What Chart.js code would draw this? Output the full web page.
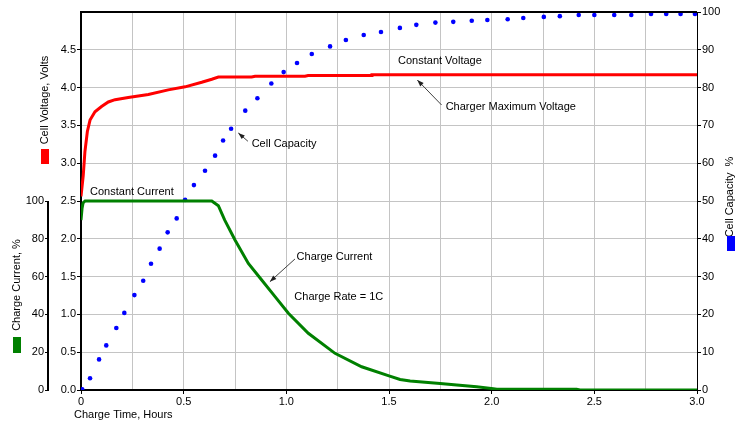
<!DOCTYPE html>
<html>
<head>
<meta charset="utf-8">
<script src="https://cdn.jsdelivr.net/npm/chart.js@4/dist/chart.umd.min.js"></script>
<style>
  html, body { margin: 0; padding: 0; background: #ffffff; }
  #wrap { width: 735px; height: 423px; position: relative; }
</style>
</head>
<body>
<div id="wrap"><canvas id="charge-chart"></canvas></div>
<script>
// cell voltage, volts
var voltage_time = [0, 0.011, 0.019, 0.031, 0.044, 0.068, 0.10, 0.133, 0.166, 0.23, 0.328, 0.425, 0.507, 0.588, 0.637, 0.669, 0.831, 0.848, 1.091, 1.106, 1.416, 1.417, 3.0];
var voltage = [2.56, 2.84, 3.15, 3.42, 3.57, 3.68, 3.75, 3.81, 3.84, 3.87, 3.91, 3.97, 4.01, 4.07, 4.11, 4.14, 4.14, 4.15, 4.15, 4.16, 4.16, 4.17, 4.17];

// charge current, %
var current_time = [0, 0.005, 0.01, 0.02, 0.637, 0.669, 0.70, 0.75, 0.815, 0.88, 0.945, 1.01, 1.107, 1.237, 1.367, 1.50, 1.554, 1.603, 1.749, 1.83, 1.927, 2.008, 2.025, 2.414, 2.43, 3.0];
var current = [89.9, 96, 99, 100, 100, 97.5, 89.9, 79.4, 67.0, 58.2, 49.4, 40.6, 30.0, 19.4, 12.3, 7.5, 5.6, 4.8, 3.5, 2.6, 1.7, 0.7, 0.4, 0.4, 0, 0];

// cell capacity, %
var capacity_time = [0.006, 0.044, 0.088, 0.123, 0.172, 0.211, 0.26, 0.303, 0.341, 0.383, 0.422, 0.466, 0.507, 0.55, 0.604, 0.653, 0.692, 0.731, 0.80, 0.859, 0.927, 0.987, 1.052, 1.124, 1.213, 1.29, 1.377, 1.461, 1.553, 1.633, 1.726, 1.813, 1.903, 1.979, 2.078, 2.154, 2.254, 2.332, 2.424, 2.5, 2.597, 2.68, 2.776, 2.85, 2.92, 2.99];
var capacity = [0.2, 3.1, 8.1, 11.8, 16.4, 20.4, 25.1, 28.9, 33.4, 37.4, 41.7, 45.4, 50.3, 54.2, 58.0, 62.0, 66.0, 69.1, 73.9, 77.2, 81.1, 84.1, 86.5, 88.9, 90.9, 92.6, 93.9, 94.7, 95.8, 96.6, 97.2, 97.4, 97.7, 97.9, 98.1, 98.4, 98.7, 98.9, 99.2, 99.2, 99.2, 99.2, 99.5, 99.5, 99.5, 99.5];

// annotations: [text, time, volts]
var notes = [
    ['Constant Voltage', 1.544, 4.35],
    ['Charger Maximum Voltage', 1.776, 3.75],
    ['Cell Capacity', 0.831, 3.26],
    ['Charge Current', 1.05, 1.755],
    ['Charge Rate = 1C', 1.039, 1.226],
    ['Constant Current', 0.044, 2.62]
];
// arrows: [tail time, tail volts, tip time, tip volts]
var arrows = [
    [1.756, 3.77, 1.638, 4.10],
    [0.813, 3.29, 0.766, 3.40],
    [1.042, 1.733, 0.920, 1.433]
];

var FONT = '11px "Liberation Sans", Arial, sans-serif';
Chart.defaults.font.family = '"Liberation Sans", Arial, sans-serif';
Chart.defaults.font.size = 11;
Chart.defaults.color = '#000';

function pairs(xs, ys) {
    return xs.map(function (x, i) { return {x: x, y: ys[i]}; });
}

function is_half(v) {
    return Math.abs(v * 2 - Math.round(v * 2)) < 1e-6;
}

var overlay = {
    id: 'overlay',
    afterDraw: function (chart) {
        var ctx = chart.ctx;
        var a = chart.chartArea;
        var s = chart.scales;
        ctx.save();

        // top frame
        ctx.strokeStyle = '#000';
        ctx.lineWidth = 2;
        ctx.beginPath();
        ctx.moveTo(a.left - 1, a.top);
        ctx.lineTo(a.right, a.top);
        ctx.stroke();

        // current axis only runs 0..100
        ctx.beginPath();
        ctx.moveTo(s.y2.right - 1, s.y2.getPixelForValue(0) + 1);
        ctx.lineTo(s.y2.right - 1, s.y2.getPixelForValue(100));
        ctx.stroke();

        ctx.font = FONT;
        ctx.fillStyle = '#000';
        ctx.textBaseline = 'middle';

        // annotations
        notes.forEach(function (n) {
            ctx.textAlign = 'left';
            ctx.fillText(n[0], s.x.getPixelForValue(n[1]), s.y.getPixelForValue(n[2]));
        });

        ctx.strokeStyle = '#404040';
        ctx.fillStyle = '#202020';
        ctx.lineWidth = 1;
        arrows.forEach(function (r) {
            var x1 = s.x.getPixelForValue(r[0]), y1 = s.y.getPixelForValue(r[1]);
            var x2 = s.x.getPixelForValue(r[2]), y2 = s.y.getPixelForValue(r[3]);
            var ang = Math.atan2(y2 - y1, x2 - x1);
            ctx.beginPath();
            ctx.moveTo(x1, y1);
            ctx.lineTo(x2, y2);
            ctx.stroke();
            ctx.beginPath();
            ctx.moveTo(x2, y2);
            ctx.lineTo(x2 - 7 * Math.cos(ang - 0.35), y2 - 7 * Math.sin(ang - 0.35));
            ctx.lineTo(x2 - 7 * Math.cos(ang + 0.35), y2 - 7 * Math.sin(ang + 0.35));
            ctx.closePath();
            ctx.fill();
        });

        // axis titles and colour keys
        ctx.fillStyle = '#000';
        ctx.textAlign = 'center';
        var titles = [
            ['Cell Voltage, Volts', 45, 100],
            ['Charge Current, %', 17, 285],
            ['Cell Capacity  %', 730, 197]
        ];
        titles.forEach(function (t) {
            ctx.save();
            ctx.translate(t[1], t[2]);
            ctx.rotate(-Math.PI / 2);
            ctx.fillText(t[0], 0, 0);
            ctx.restore();
        });
        ctx.textAlign = 'left';
        ctx.fillText('Charge Time, Hours', 74, 415);

        ctx.fillStyle = '#ff0000';
        ctx.fillRect(41, 149, 8, 15);
        ctx.fillStyle = '#008000';
        ctx.fillRect(13, 337, 8, 16);
        ctx.fillStyle = '#0000ff';
        ctx.fillRect(727, 236, 8, 15);

        ctx.restore();
    }
};

var chart = new Chart(document.getElementById('charge-chart'), {
    type: 'line',
    data: {
        datasets: [
            {
                label: 'Cell Voltage',
                data: pairs(voltage_time, voltage),
                yAxisID: 'y',
                borderColor: '#ff0000',
                borderWidth: 3,
                pointRadius: 0,
                tension: 0
            },
            {
                label: 'Charge Current',
                data: pairs(current_time, current),
                yAxisID: 'y2',
                borderColor: '#008000',
                borderWidth: 3,
                pointRadius: 0,
                tension: 0
            },
            {
                label: 'Cell Capacity',
                data: pairs(capacity_time, capacity),
                yAxisID: 'y3',
                showLine: false,
                pointRadius: 2.3,
                pointBorderWidth: 0,
                pointBackgroundColor: '#0000ff',
                borderColor: '#0000ff'
            }
        ]
    },
    options: {
        responsive: true,
        maintainAspectRatio: false,
        animation: false,
        layout: { padding: { top: 12, left: 0, right: 0, bottom: 0 } },
        plugins: {
            legend: { display: false },
            tooltip: { enabled: false }
        },
        scales: {
            x: {
                type: 'linear',
                min: 0,
                max: 3,
                afterFit: function (sc) { sc.height = 33; },
                ticks: {
                    stepSize: 0.25,
                    autoSkip: false,
                    maxRotation: 0,
                    padding: 1,
                    callback: function (v) {
                        if (!is_half(v)) return '';
                        return v === 0 ? '0' : v.toFixed(1);
                    }
                },
                grid: {
                    color: '#c4c4c4',
                    tickLength: 4,
                    tickColor: function (c) { return c.tick && is_half(c.tick.value) ? '#000' : 'rgba(0,0,0,0)'; }
                },
                border: { color: '#000', width: 2 }
            },
            y: {
                position: 'left',
                weight: 0,
                min: 0,
                max: 5,
                afterFit: function (sc) { sc.width = 32; },
                ticks: {
                    stepSize: 0.5,
                    padding: 1,
                    callback: function (v) { return v >= 5 ? '' : v.toFixed(1); }
                },
                grid: {
                    color: '#c4c4c4',
                    tickLength: 4,
                    tickColor: function (c) { return c.tick && c.tick.value < 5 ? '#000' : 'rgba(0,0,0,0)'; }
                },
                border: { color: '#000', width: 2 }
            },
            y2: {
                position: 'left',
                weight: 1,
                min: 0,
                max: 200,
                afterFit: function (sc) { sc.width = 49; },
                ticks: {
                    stepSize: 20,
                    padding: 1,
                    callback: function (v) { return v > 100 ? '' : String(v); }
                },
                grid: {
                    drawOnChartArea: false,
                    tickLength: 4,
                    tickColor: function (c) { return c.tick && c.tick.value <= 100 ? '#000' : 'rgba(0,0,0,0)'; }
                },
                border: { display: false }
            },
            y3: {
                position: 'right',
                min: 0,
                max: 100,
                afterFit: function (sc) { sc.width = 38; },
                ticks: {
                    stepSize: 10,
                    padding: 1
                },
                grid: {
                    drawOnChartArea: false,
                    tickLength: 4,
                    tickColor: '#000'
                },
                border: { color: '#000', width: 1 }
            }
        }
    },
    plugins: [overlay]
});
</script>
</body>
</html>
